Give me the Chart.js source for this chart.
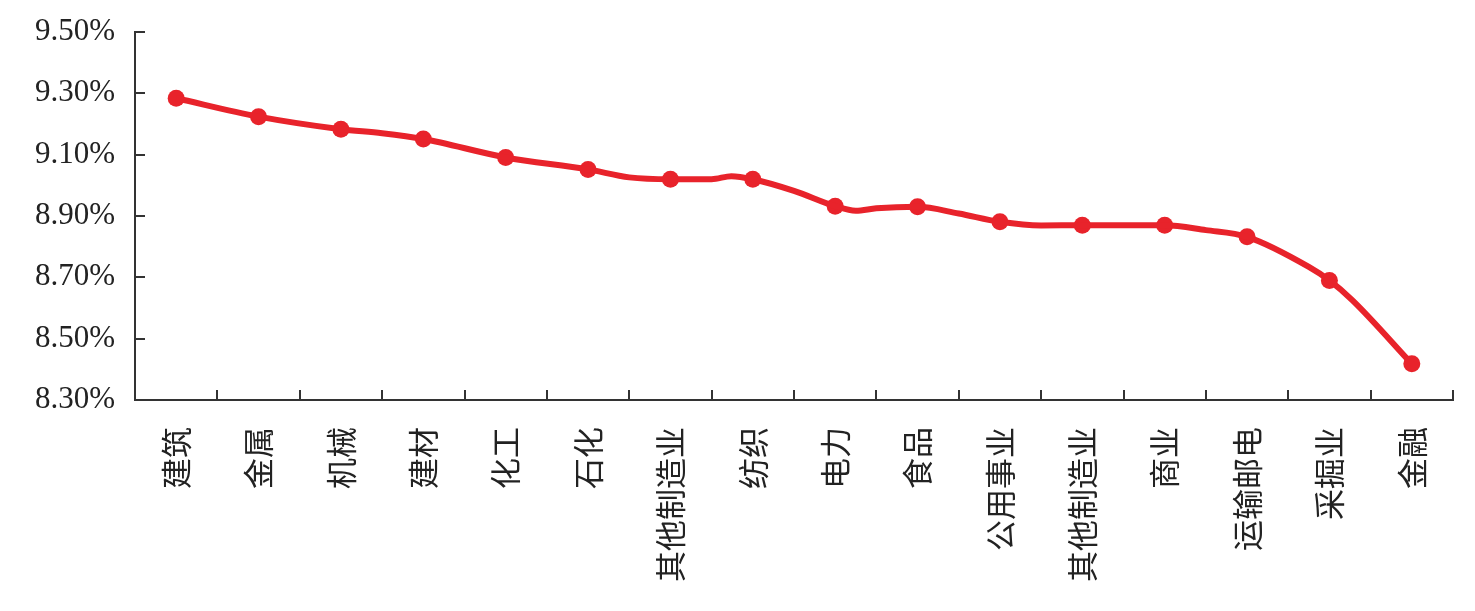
<!DOCTYPE html>
<html>
<head>
<meta charset="utf-8">
<script src="https://cdn.jsdelivr.net/npm/chart.js@4/dist/chart.umd.min.js"></script>
<style>
	body { margin: 0; background: #fff; }
	#box { width: 1475px; height: 611px; }
</style>
</head>
<body>
<div id="box"><canvas id="my_chart"></canvas></div>
<script>
// Categories (industries)
const industries = ['建筑', '金属', '机械', '建材', '化工', '石化', '其他制造业', '纺织',
	'电力', '食品', '公用事业', '其他制造业', '商业', '运输邮电', '采掘业', '金融'];

// Marker values (%)
const rates = [9.284, 9.224, 9.183, 9.151, 9.091, 9.052, 9.020, 9.020,
	8.932, 8.930, 8.881, 8.870, 8.870, 8.832, 8.690, 8.418];

// Extra points (position as category index, value %)
const curveIdx = [2.5, 5.5, 6.5, 6.74, 7.5, 8.25, 8.5, 9.5, 10.5, 12.5, 13.75, 14.28];
const curveVal = [9.170, 9.026, 9.020, 9.030, 8.982, 8.917, 8.925, 8.908, 8.869, 8.854, 8.734, 8.625];

// Y axis range
const yMin = 8.30;
const yMax = 9.50;
const yStep = 0.20;

document.addEventListener('DOMContentLoaded', () => {

	// Merge markers and in-between points into one sorted line
	var line_pts = rates.map((v, i) => ({ x: i, y: v }))
		.concat(curveIdx.map((x, i) => ({ x: x, y: curveVal[i] })))
		.sort((a, b) => a.x - b.x);

	const red = '#e8232b';
	const dark = '#333333';

	var ctx = document.getElementById('my_chart');
	var chart = new Chart(ctx, {
		type: 'line',
		data: {
			labels: industries,
			datasets: [{
				data: line_pts,
				xAxisID: 'x2',
				borderColor: red,
				borderWidth: 6,
				pointRadius: 0,
				cubicInterpolationMode: 'monotone',
				fill: false
			}, {
				data: rates,
				xAxisID: 'x',
				showLine: false,
				pointRadius: 8.5,
				pointBackgroundColor: red,
				pointBorderColor: red,
				pointBorderWidth: 0
			}]
		},
		options: {
			responsive: true,
			maintainAspectRatio: false,
			animation: false,
			layout: { padding: { top: 32, right: 22, left: 0, bottom: 0 } },
			plugins: {
				legend: { display: false },
				tooltip: { enabled: false }
			},
			scales: {
				x: {
					type: 'category',
					offset: true,
					grid: { offset: true, drawOnChartArea: false, tickLength: -10, color: dark, lineWidth: 2 },
					border: { color: dark, width: 2 },
					ticks: {
						color: '#222',
						font: { family: '"Noto Sans CJK SC"', size: 31 },
						minRotation: 90,
						maxRotation: 90,
						padding: 37,
						autoSkip: false
					},
					afterFit: function(scale) {
						scale.height = 211;
						scale.paddingLeft = 0;
						scale.paddingRight = 0;
					}
				},
				x2: {
					type: 'linear',
					display: false,
					min: -0.5,
					max: industries.length - 0.5
				},
				y: {
					min: yMin,
					max: yMax,
					grid: { drawOnChartArea: false, tickLength: -10, color: dark, lineWidth: 2 },
					border: { color: dark, width: 2 },
					ticks: {
						stepSize: yStep,
						color: '#222',
						font: { family: '"Liberation Serif", serif', size: 31 },
						padding: 30,
						callback: v => v.toFixed(2) + '%'
					},
					afterFit: function(scale) {
						scale.width = 135;
						scale.paddingTop = 0;
						scale.paddingBottom = 0;
					}
				}
			}
		}
	});
});
</script>
</body>
</html>
